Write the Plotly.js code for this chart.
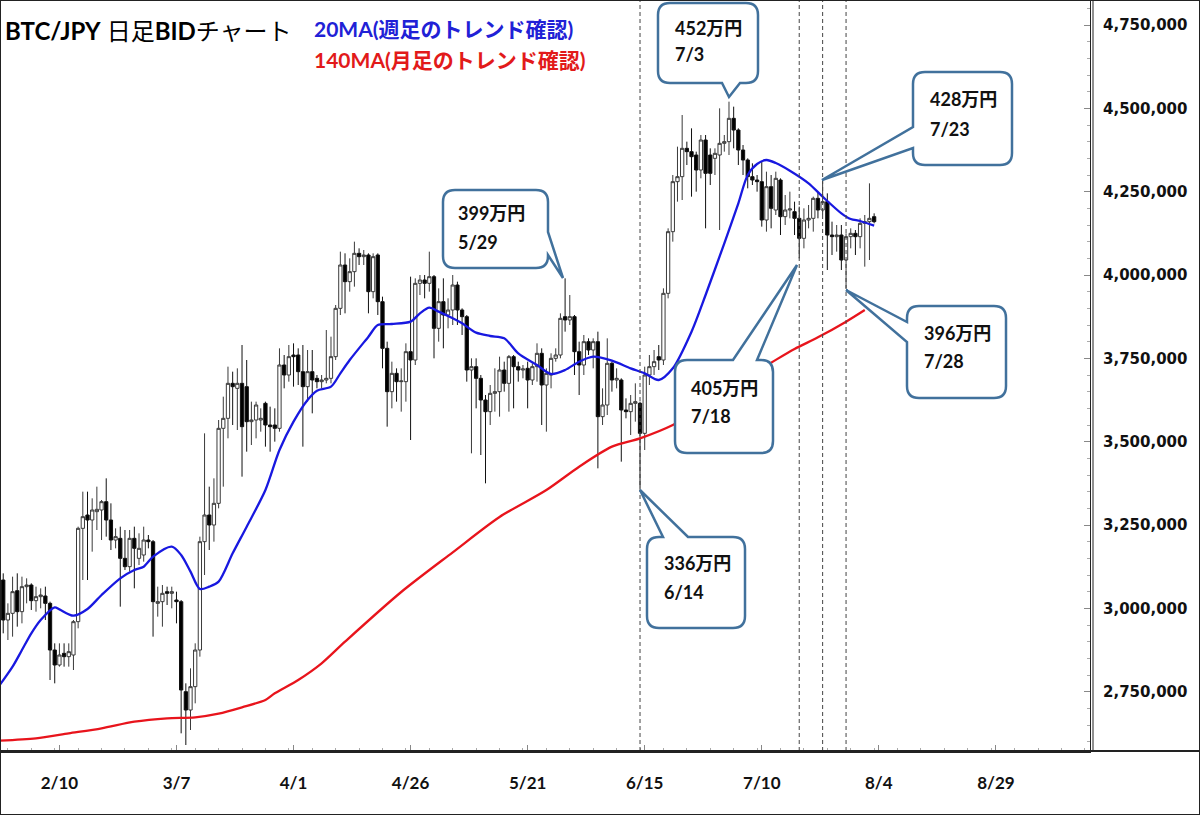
<!DOCTYPE html>
<html><head><meta charset="utf-8">
<script src="https://cdn.plot.ly/plotly-3.0.1.min.js"></script>
<style>html,body{margin:0;padding:0;background:#fff;overflow:hidden}
#frame{position:absolute;left:0;top:0;width:1198px;height:813px;border:1px solid #222;pointer-events:none}
</style></head><body>
<div id="chart" style="width:1200px;height:815px"></div>
<div id="frame"></div>
<script>
// ---- DATA (prices in thousand yen) ----
const firstDate = '2023-01-29';
const openK = [3085,2965,2985,3053,2990,3065,3070,3023,3035,3037,3015,2875,2830,2865,2855,2860,2960,3240,3280,3265,
3290,3295,3320,3265,3205,3210,3150,3125,3210,3150,3160,3205,3200,3015,3020,3050,3045,3025,3020,2750,
2695,2765,2875,3200,3280,3250,3315,3540,3570,3675,3660,3675,3665,3560,3565,3565,3615,3550,3550,3540,
3730,3700,3760,3760,3710,3665,3710,3690,3680,3685,3690,3755,3900,4030,3980,4010,4065,4055,4060,3950,
4060,3920,3780,3650,3705,3680,3680,3770,3745,3975,3985,3975,3995,3840,3920,3880,3895,3970,3895,3875,
3715,3725,3690,3625,3590,3645,3650,3715,3675,3755,3725,3715,3720,3685,3725,3765,3670,3700,3750,3760,
3875,3865,3875,3770,3730,3800,3775,3800,3575,3610,3735,3685,3685,3595,3590,3615,3615,3525,3700,3725,
3755,3745,3945,4130,4280,4295,4380,4370,4360,4315,4405,4360,4350,4360,4395,4400,4470,4435,4375,4345,
4295,4285,4280,4165,4265,4195,4285,4175,4195,4190,4170,4110,4165,4170,4230,4195,4220,4120,4115,4120,
4045,4115,4125,4115,4155,4160,4175];
const highK = [3105,3015,3095,3105,3095,3090,3075,3065,3060,3065,3020,2895,2895,2895,2895,2965,3245,3350,3350,3330,
3365,3325,3390,3315,3240,3245,3235,3235,3245,3225,3245,3220,3205,3065,3070,3065,3065,3050,3025,2775,
2820,2895,3215,3525,3365,3390,3565,3635,3725,3710,3720,3790,3745,3620,3620,3600,3620,3605,3600,3780,
3760,3790,3795,3780,3790,3775,3775,3700,3700,3835,3815,3910,4070,4065,4050,4100,4080,4075,4065,4065,
4065,3935,3800,3740,3720,3720,3795,3995,3990,4000,4000,4070,4000,3960,3990,3930,4000,3980,3900,3880,
3750,3750,3700,3640,3670,3720,3755,3740,3760,3760,3740,3730,3740,3735,3795,3780,3720,3765,3780,3885,
3990,3940,3880,3800,3820,3810,3810,3830,3660,3810,3740,3720,3690,3630,3640,3675,3620,3725,3760,3775,
3790,3960,4140,4300,4385,4480,4400,4440,4370,4420,4420,4380,4380,4500,4420,4520,4505,4440,4390,4350,
4335,4300,4340,4310,4300,4310,4290,4240,4250,4220,4205,4200,4210,4235,4250,4285,4245,4160,4150,4150,
4125,4140,4135,4170,4180,4275,4185];
const lowK = [2925,2905,2915,2945,2955,3015,2995,2990,3000,2965,2785,2775,2825,2825,2825,2815,2940,3085,3085,3170,
3235,3205,3215,3175,3180,3005,3115,3110,3060,3130,3140,3180,2915,2975,2945,3010,3000,2955,2625,2590,
2635,2715,2855,3100,3175,3200,3300,3365,3510,3550,3535,3395,3470,3490,3510,3530,3485,3470,3500,3530,
3660,3680,3665,3670,3485,3620,3585,3660,3660,3675,3675,3745,3880,3885,3950,3965,4030,4030,3885,3930,
3880,3720,3545,3600,3620,3590,3620,3505,3730,3940,3930,3950,3750,3800,3780,3840,3850,3850,3820,3680,
3465,3600,3460,3375,3550,3590,3575,3650,3590,3600,3680,3690,3600,3670,3680,3550,3530,3660,3740,3750,
3830,3850,3700,3640,3700,3760,3720,3420,3550,3580,3650,3660,3440,3570,3520,3560,3360,3475,3670,3700,
3715,3730,3930,4100,4220,4225,4330,4235,4250,4290,4140,4270,4300,4135,4370,4360,4380,4330,4300,4260,
4270,4250,4145,4130,4140,4180,4120,4150,4170,4120,4050,4080,4140,4130,4170,4180,4015,4060,4070,4015,
3960,4080,4060,4080,4025,4045,4155];
const closeK = [2965,2985,3050,2990,3065,3070,3023,3035,3040,3015,2875,2830,2860,2855,2870,2960,3240,3275,3265,3295,
3297,3320,3265,3205,3215,3150,3125,3210,3180,3180,3205,3200,3020,3020,3045,3045,3050,3020,2755,2695,
2765,2875,3200,3280,3250,3315,3540,3570,3675,3665,3675,3545,3560,3565,3610,3570,3550,3545,3540,3730,
3700,3755,3755,3710,3665,3710,3685,3680,3685,3690,3755,3900,4030,3980,4010,4065,4055,4060,3950,4055,
3920,3780,3650,3705,3680,3682,3770,3745,3975,3985,3975,3995,3840,3920,3880,3895,3970,3895,3875,3715,
3725,3690,3625,3590,3645,3650,3715,3675,3755,3725,3715,3718,3685,3725,3765,3670,3705,3750,3760,3870,
3865,3875,3770,3730,3800,3775,3800,3575,3610,3735,3685,3690,3595,3590,3615,3620,3525,3700,3725,3740,
3745,3945,4130,4280,4295,4380,4370,4355,4315,4405,4305,4305,4365,4395,4400,4470,4435,4375,4345,4295,
4285,4280,4165,4265,4200,4290,4175,4195,4198,4170,4110,4165,4170,4230,4195,4220,4120,4115,4120,4045,
4115,4125,4115,4155,4160,4170,4160];

// 20MA (blue)
const ma20Dates = ['2023-01-28','2023-01-31','2023-02-02','2023-02-04','2023-02-06','2023-02-09','2023-02-10','2023-02-13','2023-02-16','2023-02-19',
'2023-02-23','2023-02-26','2023-02-28','2023-03-02','2023-03-06','2023-03-08','2023-03-10','2023-03-12','2023-03-14','2023-03-16',
'2023-03-19','2023-03-22','2023-03-26','2023-03-29','2023-04-01','2023-04-04','2023-04-06','2023-04-09','2023-04-11','2023-04-13',
'2023-04-17','2023-04-19','2023-04-22','2023-04-26','2023-04-28','2023-04-30','2023-05-02','2023-05-05','2023-05-07','2023-05-10',
'2023-05-13','2023-05-16','2023-05-19','2023-05-23','2023-05-26','2023-05-29','2023-06-01','2023-06-04','2023-06-08','2023-06-12',
'2023-06-15','2023-06-18','2023-06-21','2023-06-25','2023-06-28','2023-07-02','2023-07-05','2023-07-07','2023-07-09','2023-07-11',
'2023-07-13','2023-07-16','2023-07-20','2023-07-23','2023-07-27','2023-07-29','2023-07-31','2023-08-03'];
const ma20K = [2765,2825,2875,2925,2965,3003,2997,2978,2998,3040,
3090,3115,3125,3155,3185,3160,3110,3058,3065,3080,
3165,3245,3355,3475,3560,3625,3653,3665,3705,3745,
3815,3850,3853,3860,3885,3902,3890,3870,3855,3827,
3817,3810,3765,3730,3703,3715,3740,3755,3743,3720,
3705,3685,3720,3830,3940,4095,4215,4300,4333,4345,
4336,4313,4275,4235,4185,4168,4162,4148];

// 140MA (red)
const ma140Dates = ['2023-01-28','2023-02-05','2023-02-12','2023-02-19','2023-02-26','2023-03-05','2023-03-11','2023-03-16','2023-03-21','2023-03-26',
'2023-03-28','2023-04-02','2023-04-07','2023-04-12','2023-04-24','2023-05-05','2023-05-15','2023-05-25','2023-06-01','2023-06-08',
'2023-06-14','2023-06-21','2023-06-27','2023-07-04','2023-07-12','2023-07-17','2023-07-22','2023-07-28','2023-08-01'];
const ma140K = [2603,2610,2625,2640,2660,2670,2673,2684,2703,2725,
2745,2785,2835,2900,3049,3168,3274,3355,3425,3485,
3510,3550,3600,3670,3737,3778,3813,3860,3895];

const xTickStart = '2023-02-10';
const markDates = ['2023-06-14','2023-07-18','2023-07-23','2023-07-28'];
const callouts = [
  {price:'452万円', date:'7/3'},
  {price:'428万円', date:'7/23'},
  {price:'399万円', date:'5/29'},
  {price:'336万円', date:'6/14'},
  {price:'405万円', date:'7/18'},
  {price:'396万円', date:'7/28'}
];
const titleText = '<b>BTC/JPY</b> 日足<b>BID</b>チャート';
const ma20Label = '<b>20MA(週足のトレンド確認)</b>';
const ma140Label = '<b>140MA(月足のトレンド確認)</b>';

// ---- build ----
const K = 1000;
const dates = [];
{ const t0 = Date.parse(firstDate + 'T00:00:00Z');
  for (let i = 0; i < openK.length; i++) dates.push(new Date(t0 + i*86400000).toISOString().slice(0,10)); }

const W = 1200, H = 815, ML = 0, MR = 110, MT = 0, MB = 64;
const PW = W - ML - MR, PH = H - MT - MB;
const X = px => (px - ML) / PW;
const Y = py => 1 - (py - MT) / PH;

// callout geometry (pixels)
const boxes = [
  {x0:658,y0:3,x1:758,y1:83,side:'bottom',a:722,c:740,tx:729,ty:97, t1:[673,28], t2:[673,54]},
  {x0:913,y0:72,x1:1012,y1:165,side:'left',a:127,c:148,tx:822,ty:180, t1:[928,99], t2:[928,129]},
  {x0:443,y0:190,x1:548,y1:268,side:'right',a:232,c:255,tx:563,ty:278, t1:[456,213], t2:[456,242]},
  {x0:647,y0:537,x1:745,y1:628,side:'top',a:663,c:688,tx:640,ty:490, t1:[662,563], t2:[662,592]},
  {x0:675,y0:360,x1:773,y1:453,side:'top',a:733,c:757,tx:797,ty:265, t1:[689,388], t2:[689,416]},
  {x0:907,y0:306,x1:1006,y1:398,side:'left',a:322,c:342,tx:846,ty:290, t1:[922,333], t2:[922,361]}
];
function calloutPath(b){
  const r = 12; const P = (x,y) => X(x).toFixed(5)+','+Y(y).toFixed(5);
  let d = 'M' + P(b.x0+r,b.y0);
  if (b.side==='top') d += ' L'+P(b.a,b.y0)+' L'+P(b.tx,b.ty)+' L'+P(b.c,b.y0);
  d += ' L'+P(b.x1-r,b.y0)+' Q'+P(b.x1,b.y0)+' '+P(b.x1,b.y0+r);
  if (b.side==='right') d += ' L'+P(b.x1,b.a)+' L'+P(b.tx,b.ty)+' L'+P(b.x1,b.c);
  d += ' L'+P(b.x1,b.y1-r)+' Q'+P(b.x1,b.y1)+' '+P(b.x1-r,b.y1);
  if (b.side==='bottom') d += ' L'+P(b.c,b.y1)+' L'+P(b.tx,b.ty)+' L'+P(b.a,b.y1);
  d += ' L'+P(b.x0+r,b.y1)+' Q'+P(b.x0,b.y1)+' '+P(b.x0,b.y1-r);
  if (b.side==='left') d += ' L'+P(b.x0,b.c)+' L'+P(b.tx,b.ty)+' L'+P(b.x0,b.a);
  d += ' L'+P(b.x0,b.y0+r)+' Q'+P(b.x0,b.y0)+' '+P(b.x0+r,b.y0)+' Z';
  return d;
}

const shapes = [];
markDates.forEach(dt => shapes.push({type:'line', xref:'x', yref:'paper', x0:dt, x1:dt, y0:0, y1:1,
  line:{color:'#444', width:1, dash:'4px,3px'}, layer:'above'}));
shapes.push({type:'line', xref:'paper', yref:'paper', x0:0, x1:W/PW, y0:0, y1:0, line:{color:'#222', width:2}});
shapes.push({type:'line', xref:'paper', yref:'paper', x0:X(1093), x1:X(1093), y0:0, y1:1, line:{color:'#222', width:1}});
boxes.forEach(b => shapes.push({type:'path', xref:'paper', yref:'paper', path:calloutPath(b),
  fillcolor:'#ffffff', line:{color:'#41719c', width:2.5}, layer:'above'}));

const cjk = 'Lato, "Noto Sans CJK JP", sans-serif';
const annotations = [];
boxes.forEach((b,i) => {
  annotations.push({xref:'paper', yref:'paper', x:X(b.t1[0]), y:Y(b.t1[1]), xanchor:'left', yanchor:'middle', showarrow:false,
    text:'<b>'+callouts[i].price+'</b>', font:{family:cjk, size:18, color:'#111'}});
  annotations.push({xref:'paper', yref:'paper', x:X(b.t2[0]), y:Y(b.t2[1]), xanchor:'left', yanchor:'middle', showarrow:false,
    text:'<b>'+callouts[i].date+'</b>', font:{family:cjk, size:18, color:'#111'}});
});
annotations.push({xref:'paper', yref:'paper', x:X(3), y:Y(31), xanchor:'left', yanchor:'middle', showarrow:false,
  text:titleText, font:{family:cjk, size:24, color:'#000'}});
annotations.push({xref:'paper', yref:'paper', x:X(312), y:Y(28), xanchor:'left', yanchor:'middle', showarrow:false,
  text:ma20Label, font:{family:cjk, size:21, color:'#2121d6'}});
annotations.push({xref:'paper', yref:'paper', x:X(312), y:Y(59), xanchor:'left', yanchor:'middle', showarrow:false,
  text:ma140Label, font:{family:cjk, size:21, color:'#e21a1a'}});

const traces = [
  {type:'candlestick', x:dates,
   open:openK.map(v=>v*K), high:highK.map(v=>v*K), low:lowK.map(v=>v*K), close:closeK.map(v=>v*K),
   increasing:{line:{color:'#3a3a3a', width:1}, fillcolor:'#ffffff'},
   decreasing:{line:{color:'#111111', width:1}, fillcolor:'#000000'},
   whiskerwidth:0, hoverinfo:'skip'},
  {type:'scatter', mode:'lines', x:ma140Dates, y:ma140K.map(v=>v*K),
   line:{color:'#e8141c', width:2.3, shape:'spline', smoothing:0.8}, hoverinfo:'skip'},
  {type:'scatter', mode:'lines', x:ma20Dates, y:ma20K.map(v=>v*K),
   line:{color:'#1818e0', width:2.3, shape:'spline', smoothing:0.8}, hoverinfo:'skip'}
];

const layout = {
  width:W, height:H, margin:{l:ML, r:MR, t:MT, b:MB, pad:0},
  paper_bgcolor:'#ffffff', plot_bgcolor:'#ffffff', showlegend:false,
  boxgap:0.3, boxgroupgap:0,
  xaxis:{type:'date', range:['2023-01-28 07:30','2023-09-18 02:24'], rangeslider:{visible:false},
    tick0:xTickStart, dtick:86400000*25, tickformat:'%-m/%-d',
    ticks:'inside', ticklen:6, tickcolor:'#888', showline:true, linecolor:'#222', linewidth:2,
    showgrid:false, zeroline:false, ticklabelstandoff:16,
    tickfont:{family:'Lato, sans-serif', size:17, weight:'bold', color:'#111'},
    minor:{dtick:86400000*5, ticks:'inside', ticklen:3, tickcolor:'#aaa', showgrid:false}},
  yaxis:{side:'right', range:[2572000,4825000], tick0:0, dtick:250000, tickformat:',d',
    ticks:'inside', ticklen:6, tickcolor:'#888', showline:true, linecolor:'#222', linewidth:1,
    showgrid:false, zeroline:false, ticklabelstandoff:9,
    tickfont:{family:'DejaVu Sans, sans-serif', size:15, weight:'bold', color:'#111'},
    minor:{dtick:50000, ticks:'inside', ticklen:3, tickcolor:'#aaa', showgrid:false}},
  shapes:shapes, annotations:annotations
};
Plotly.newPlot('chart', traces, layout, {staticPlot:true, displayModeBar:false});
</script></body></html>
